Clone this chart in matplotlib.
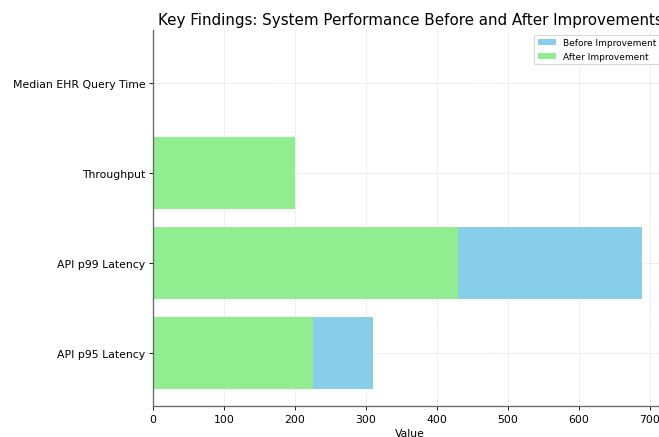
import matplotlib.pyplot as plt
import numpy as np

# metrics, bottom to top
metrics = ["API p95 Latency", "API p99 Latency", "Throughput", "Median EHR Query Time"]
before = [310, 690, 100, 2.0]
after = [225, 430, 200, 0.5]

dpi = 78
fig = plt.figure(figsize=(659 / dpi, 438 / dpi), dpi=dpi)
ax = fig.add_axes([0.232, 0.0708, 0.78, 0.858])

y = np.arange(len(metrics))
ax.barh(y, before, color="skyblue", label="Before Improvement")
ax.barh(y, after, color="lightgreen", label="After Improvement")

ax.set_yticks(y)
ax.set_yticklabels(metrics)
ax.set_xlabel("Value")
ax.set_title("Key Findings: System Performance Before and After Improvements", fontsize=14)
ax.grid(True, linestyle="--", linewidth=0.7, alpha=0.35)
ax.set_axisbelow(True)
for s in ["top", "right"]:
  ax.spines[s].set_visible(False)
ax.spines["left"].set_color("#666666")
ax.spines["bottom"].set_color("#666666")
ax.spines["left"].set_linewidth(1.2)
ax.spines["bottom"].set_linewidth(1.2)
ax.legend(loc="upper right", fontsize="small", bbox_to_anchor=(0.995, 1.0))

fig.savefig("out.png", dpi=dpi)
